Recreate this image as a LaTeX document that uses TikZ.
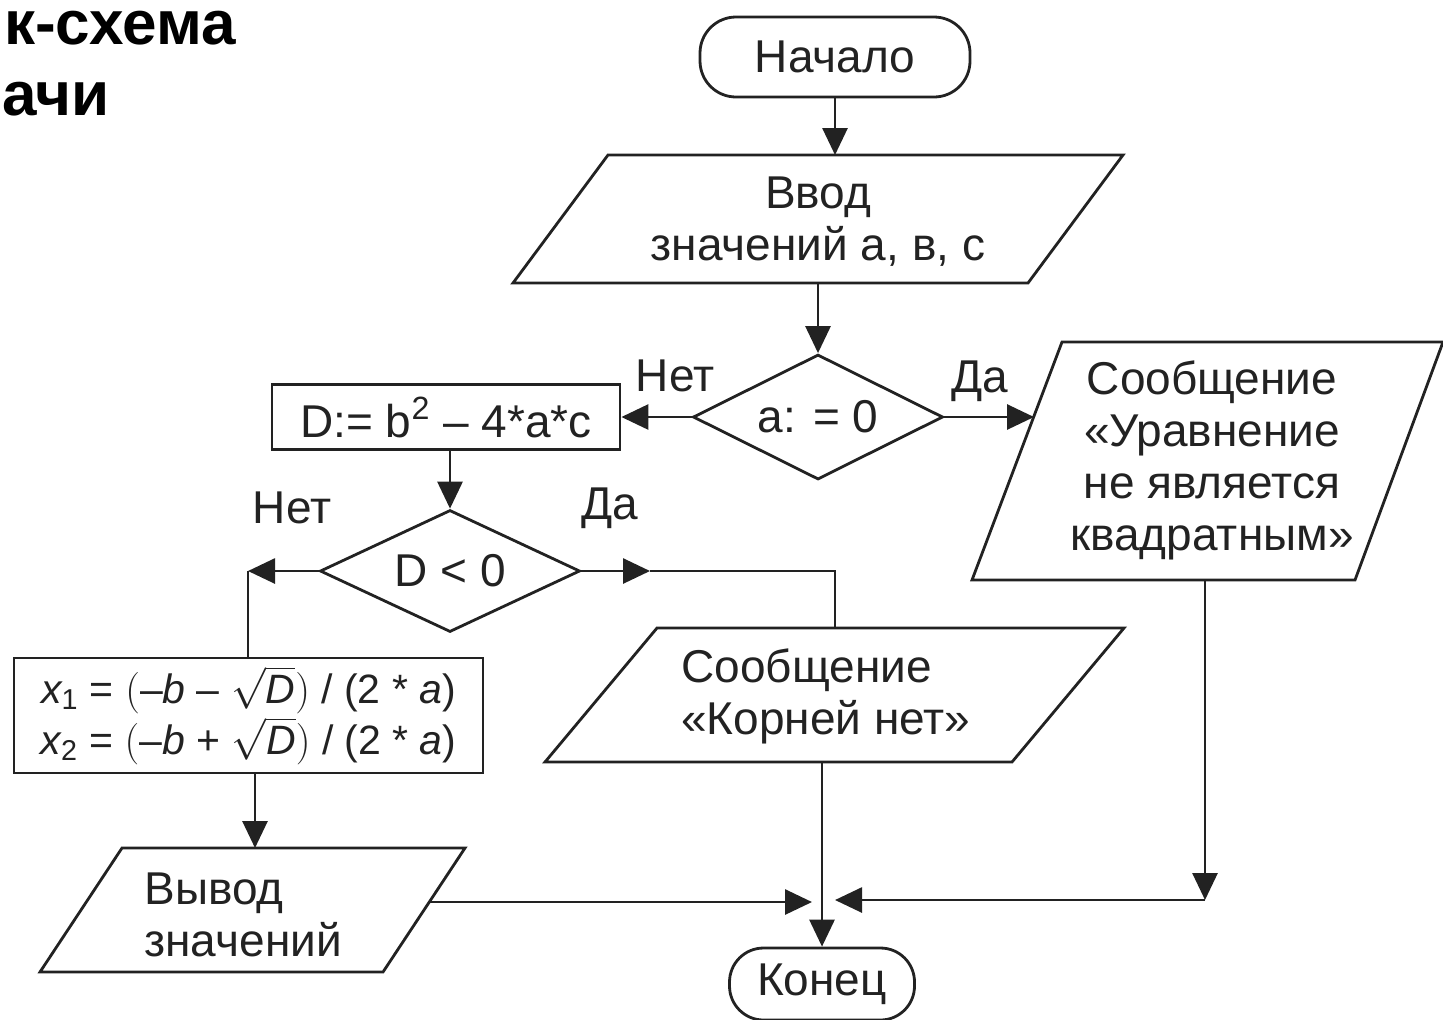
\documentclass[tikz,border=0pt]{standalone}
\usepackage{fontspec}
\setmainfont{Liberation Sans}
\usetikzlibrary{arrows.meta,shapes.geometric,calc}
\definecolor{ink}{HTML}{222222}
\begin{document}
\begin{tikzpicture}[x=0.5pt,y=-0.5pt,
  line width=1.4pt, draw=ink,
  font=\fontsize{23}{26}\selectfont,
  txt/.style={text=ink, inner sep=0pt},
  term/.style={draw, rounded corners=18pt, txt},
  proc/.style={draw, rectangle, txt},
  decision/.style={draw, diamond, aspect=2, inner sep=0pt, txt},
  label/.style={txt},
  arr/.style={-{Triangle[length=13.5pt,width=12.5pt]}},
  heading/.style={inner sep=0pt, text=black,
                  font=\fontsize{31}{36}\selectfont\bfseries}
]
\useasboundingbox (0,0) rectangle (1443,1019);

% heading
\node[heading, anchor=base east] (title1) at (237,44) {к-схема};
\node[heading, anchor=base west] (title2) at (1,115) {ачи};

% start
\node[term, minimum width=135pt, minimum height=40pt] (start) at (835,57) {Начало};

% input of coefficients
\draw (608,155) -- (1123,155) -- (1028,283) -- (513,283) -- cycle;
\node[txt, align=center] (input) at (818,222) {Ввод\\значений а, в, с};
\coordinate (input-n) at (835,155);
\coordinate (input-s) at (818,283);

% a = 0 ?
\node[decision, minimum width=125pt, minimum height=62.5pt] (cond1) at (818,417) {a: = 0};
\node[label] (no1) at (675,376) {Нет};
\node[label] (yes1) at (980,381) {Да};

% discriminant
\node[proc, minimum width=174pt, minimum height=32.5pt] (disc) at (446,417)
  {D:= b\textsuperscript{2} – 4*a*c};

% message: not a quadratic equation
\draw (1062,342) -- (1443,342) -- (1355,580) -- (972,580) -- cycle;
\node[txt, align=center] (msg1) at (1212,460)
  {Сообщение\\«Уравнение\\не является\\квадратным»};
\coordinate (msg1-w) at (1034,417);
\coordinate (msg1-s) at (1205,580);

% D < 0 ?
\node[decision, minimum width=130pt, minimum height=61pt] (cond2) at (450,571) {D < 0};
\node[label] (no2) at (292,508) {Нет};
\node[label] (yes2) at (610,508) {Да};
\coordinate (lcorner) at (248,571);
\coordinate (rmid) at (650,571);
\coordinate (rcorner) at (835,571);

% roots
\node[proc, minimum width=234.5pt, minimum height=57.5pt, align=center,
      font=\fontsize{20.5}{25.5}\selectfont] (roots) at (248.5,715.5)
  {{\itshape x}\textsubscript{1} = $\bigl($–{\itshape b} – $\sqrt{\mbox{\itshape D}}\bigr)$ / (2 * {\itshape a})\\
   {\itshape x}\textsubscript{2} = $\bigl($–{\itshape b} + $\sqrt{\mbox{\itshape D}}\bigr)$ / (2 * {\itshape a})};

% message: no roots
\draw (657,628) -- (1124,628) -- (1012,762) -- (545,762) -- cycle;
\node[txt, align=left, anchor=west] (msg2) at (680,696) {Сообщение\\«Корней нет»};
\coordinate (msg2-n) at (835,628);
\coordinate (msg2-s) at (822,762);

% output
\draw (122,848) -- (465,848) -- (383,972) -- (40,972) -- cycle;
\node[txt, align=left, anchor=west] (output) at (143,915) {Вывод\\значений};
\coordinate (out-n) at (255,848);
\coordinate (out-e) at (429,902);

% end
\node[term, rounded corners=17pt, minimum width=92.5pt, minimum height=36pt] (end) at (822,984) {Конец};
\coordinate (join-l) at (812,902);
\coordinate (turn) at (1205,900);
\coordinate (join-r) at (835,900);

% connectors
\draw[arr] (start.south) -- (input-n);
\draw[arr] (input-s) -- (cond1.north);
\draw[arr] (cond1.west) -- (disc.east);
\draw[arr] (cond1.east) -- (msg1-w);
\draw[arr] (disc.south -| cond2.north) -- (cond2.north);
\draw[arr] (cond2.west) -- (lcorner);
\draw (lcorner) -- (lcorner |- roots.north);
\draw[arr] (cond2.east) -- (rmid);
\draw (rmid) -- (rcorner) -- (msg2-n);
\draw[arr] (roots.south -| out-n) -- (out-n);
\draw[arr] (out-e) -- (join-l);
\draw[arr] (msg2-s) -- (end.north);
\draw[arr] (msg1-s) -- (turn);
\draw[arr] (turn) -- (join-r);
\end{tikzpicture}
\end{document}
